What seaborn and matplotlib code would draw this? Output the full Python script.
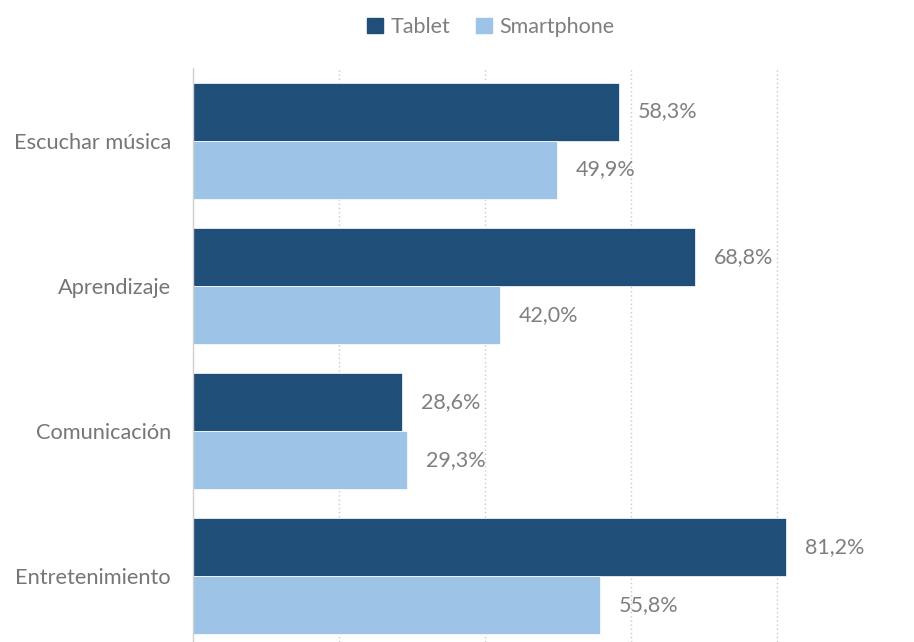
import matplotlib
matplotlib.use('Agg')
import matplotlib.pyplot as plt
import pandas as pd
import seaborn as sns

categories = ['Escuchar música', 'Aprendizaje', 'Comunicación', 'Entretenimiento']
tablet = [58.3, 68.8, 28.6, 81.2]
smartphone = [49.9, 42.0, 29.3, 55.8]
series = ['Tablet', 'Smartphone']
colors = ['#1F4E79', '#9DC3E6']

df = pd.DataFrame({
    'categoria': categories * 2,
    'valor': tablet + smartphone,
    'dispositivo': ['Tablet'] * 4 + ['Smartphone'] * 4,
})

sns.set_style('white')
plt.rcParams['font.family'] = ['Lato', 'DejaVu Sans']

fig = plt.figure(figsize=(9.14, 6.42), dpi=100)
ax = fig.add_axes([193 / 914, 0, 1 - 193 / 914, 574 / 642])

sns.barplot(data=df, y='categoria', x='valor', hue='dispositivo', hue_order=series,
            palette=colors, saturation=1, orient='h', width=0.8, ax=ax, legend=False,
            edgecolor='white', linewidth=0.5)

ax.set_xlim(0, (914 - 193) / 7.3)
ax.set_ylim(3 + 66 / 145, -0.5)
ax.set_xticks([20, 40, 60, 80])
ax.set_xticklabels([])
ax.tick_params(axis='x', length=0)
ax.tick_params(axis='y', length=0, pad=16, labelsize=15.7, labelcolor='#767676')
ax.xaxis.grid(True, linestyle=(0, (1, 2)), color='#c8c8c8', linewidth=1)
ax.set_axisbelow(True)
ax.set_xlabel('')
ax.set_ylabel('')
for side in ['top', 'right', 'bottom']:
    ax.spines[side].set_visible(False)
ax.spines['left'].set_color('#d0d0d0')
ax.spines['left'].set_linewidth(1)

for cont in ax.containers:
    labels = [f'{v:.1f}%'.replace('.', ',') for v in cont.datavalues]
    ax.bar_label(cont, labels=labels, padding=13.5, fontsize=15.5, color='#7f7f7f')

handles = [plt.Rectangle((0, 0), 1, 1, color=c) for c in colors]
fig.legend(handles, series, loc='center', bbox_to_anchor=(0.537, 0.958), ncol=2,
           frameon=False, fontsize=15.5, labelcolor='#7f7f7f', handlelength=0.75,
           handleheight=0.75, handletextpad=0.35, columnspacing=1.2)

fig.savefig('out.png', dpi=100)
